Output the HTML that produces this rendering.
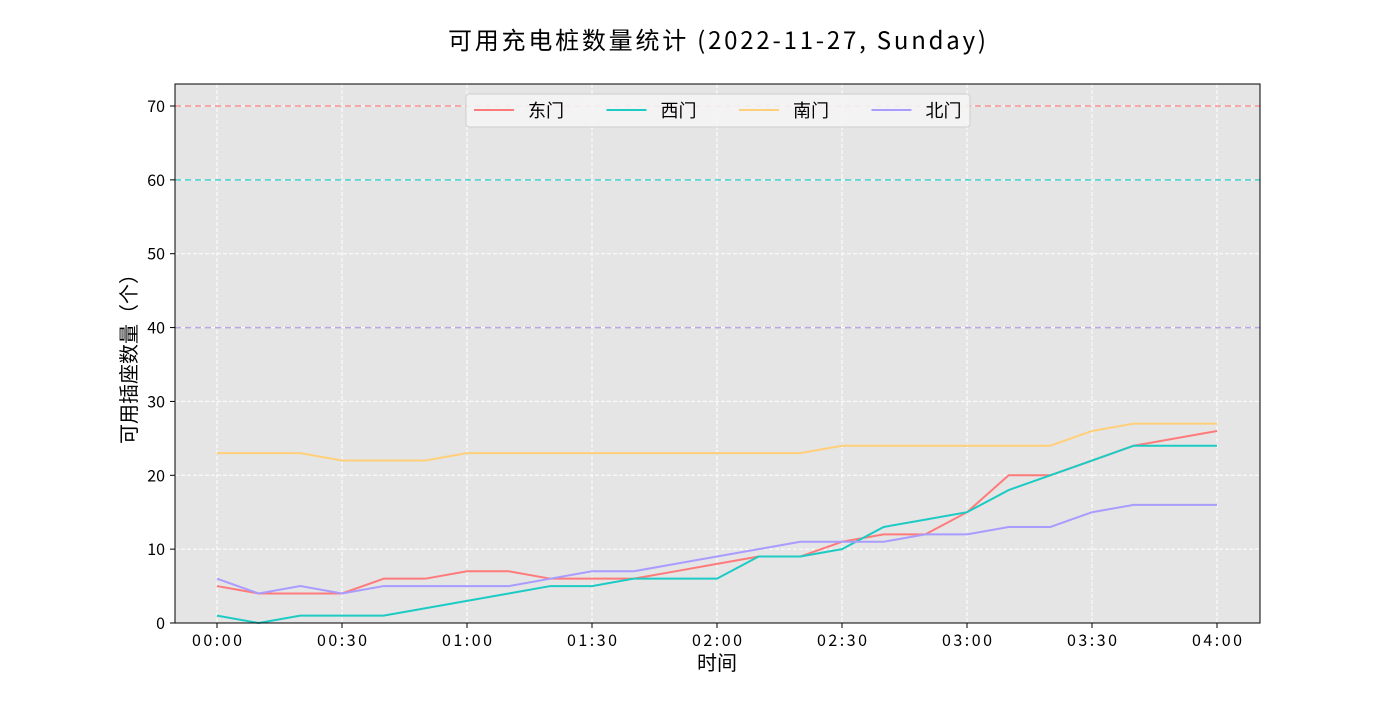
<!DOCTYPE html>
<html><head><meta charset="utf-8">
<style>
body{margin:0;background:#fff;}
svg text{font-family:"WenQuanYi Zen Hei","Noto Sans CJK SC",sans-serif;}
</style></head>
<body>
<svg id="chart" width="1400" height="700" xmlns="http://www.w3.org/2000/svg">
<text x="717" y="49" text-anchor="middle" font-size="24" fill="#000" textLength="538" lengthAdjust="spacing">可用充电桩数量统计 (2022-11-27, Sunday)</text>
<rect x="175" y="84" width="1085" height="539" fill="#e5e5e5"/>
<g id="grid"></g>
<g id="refs"></g>
<g id="series"></g>
<rect x="175" y="84" width="1085" height="539" fill="none" stroke="#000" stroke-width="1"/>
<g id="ticks"></g>
<text x="717" y="670" text-anchor="middle" font-size="20">时间</text>
<text transform="translate(136,354) rotate(-90)" text-anchor="middle" font-size="20">可用插座数量（个）</text>
<g id="legend"></g>
</svg>
<script>
const times=["00:00","00:10","00:20","00:30","00:40","00:50","01:00","01:10","01:20","01:30","01:40","01:50","02:00","02:10","02:20","02:30","02:40","02:50","03:00","03:10","03:20","03:30","03:40","03:50","04:00"];
const seriesNames=["东门","西门","南门","北门"];
const east=[5,4,4,4,6,6,7,7,6,6,6,7,8,9,9,11,12,12,15,20,20,22,24,25,26];
const west=[1,0,1,1,1,2,3,4,5,5,6,6,6,9,9,10,13,14,15,18,20,22,24,24,24];
const south=[23,23,23,22,22,22,23,23,23,23,23,23,23,23,23,24,24,24,24,24,24,26,27,27,27];
const north=[6,4,5,4,5,5,5,5,6,7,7,8,9,10,11,11,11,12,12,13,13,15,16,16,16];
const capacities=[70,60,40,40];
const yTicks=[0,10,20,30,40,50,60,70];
const xTickLabels=["00:00","00:30","01:00","01:30","02:00","02:30","03:00","03:30","04:00"];
const colors=["#ff7b7b","#1dcbc4","#ffcf7a","#a99cff"];
const NS="http://www.w3.org/2000/svg";
function mins(t){const p=t.split(":");return +p[0]*60+ +p[1];}
function xs(m){return 217+(m/240)*1000;}
function ys(v){return 623-v*(517/70);}
function mk(tag,attrs,parent){const e=document.createElementNS(NS,tag);for(const k in attrs)e.setAttribute(k,attrs[k]);parent.appendChild(e);return e;}
const grid=document.getElementById("grid"),ticks=document.getElementById("ticks"),refs=document.getElementById("refs"),ser=document.getElementById("series"),leg=document.getElementById("legend");
yTicks.forEach(v=>{
 const l=mk("line",{x1:175,x2:1260,y1:ys(v),y2:ys(v),stroke:"#fff","stroke-dasharray":"4,2","stroke-width":1},grid);
 
 
 const tk=mk("line",{x1:170,x2:175,y1:ys(v),y2:ys(v),stroke:"#000"},ticks);
 
 
 const t=mk("text",{x:165,y:ys(v)+6,"text-anchor":"end","font-size":16},ticks);
 t.textContent=v;
 
 
});
xTickLabels.forEach(s=>{
 const x=xs(mins(s));
 const l=mk("line",{x1:x,x2:x,y1:84,y2:623,stroke:"#fff","stroke-dasharray":"4,2","stroke-width":1},grid);
 
 
 const tk=mk("line",{x1:x,x2:x,y1:623,y2:628,stroke:"#000"},ticks);
 
 
 const t=mk("text",{x:x,y:646,"text-anchor":"middle","font-size":16,textLength:50,lengthAdjust:"spacing"},ticks);
 t.textContent=s;
 
 
});
capacities.forEach((c,i)=>{
 const l=mk("line",{x1:175,x2:1260,y1:ys(c),y2:ys(c),stroke:colors[i],"stroke-dasharray":"6,4","stroke-width":1.5,opacity:0.8},refs);
 
 
});
[east,west,south,north].forEach((d,i)=>{
 const pts=d.map((v,j)=>xs(mins(times[j]))+","+ys(v)).join(" ");
 const p=mk("polyline",{points:pts,fill:"none",stroke:colors[i],"stroke-width":2},ser);
 
 
});
const lb=mk("rect",{x:466,y:94,width:504,height:33,fill:"#f5f5f5",stroke:"#ccc",rx:3,opacity:0.9},leg);


seriesNames.forEach((n,i)=>{
 const x0=474+i*132.5;
 const l=mk("line",{x1:x0,x2:x0+40,y1:110,y2:110,stroke:colors[i],"stroke-width":2},leg);
 
 
 const t=mk("text",{x:x0+54,y:117,"font-size":18},leg);
 t.textContent=n;
 
 
});
</script>
</body></html>
